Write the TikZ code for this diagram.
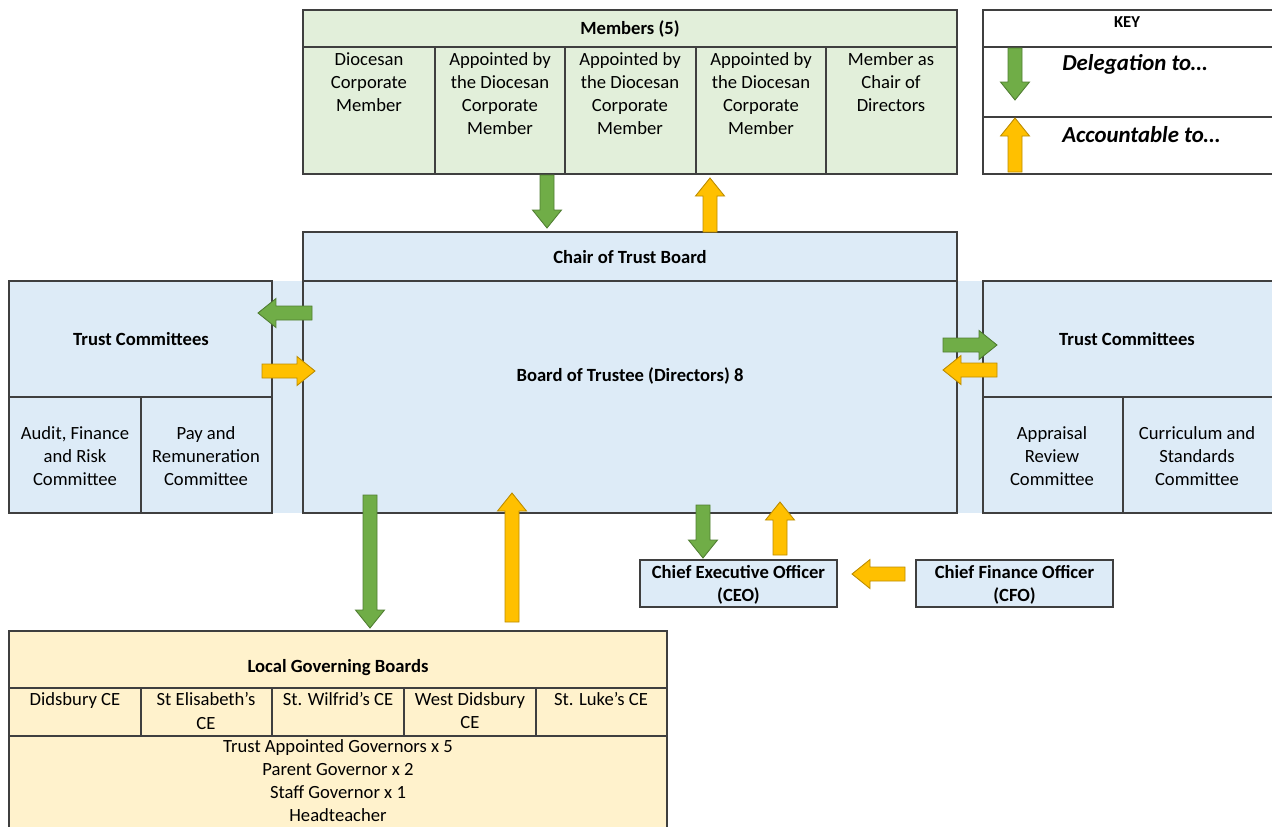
\documentclass[tikz,border=0pt]{standalone}
\usepackage{fontspec}
\setmainfont{Carlito}
\usetikzlibrary{calc}

\definecolor{linec}{HTML}{3F3F3F}
\definecolor{memgreen}{HTML}{E2EFDA}
\definecolor{trustblue}{HTML}{DDEBF7}
\definecolor{lgbyellow}{HTML}{FFF2CC}
\definecolor{delgreen}{HTML}{70AD47}
\definecolor{delgreenline}{HTML}{507E32}
\definecolor{accorange}{HTML}{FFC000}
\definecolor{accorangeline}{HTML}{BC8C00}

\newcommand{\cellsize}{\fontsize{10.6}{13.1}\selectfont}

\tikzset{
	greenbox/.style={fill=memgreen,draw=linec,line width=0.6pt},
	bluebox/.style={fill=trustblue,draw=linec,line width=0.6pt},
	yellowbox/.style={fill=lgbyellow,draw=linec,line width=0.6pt},
	divider/.style={draw=linec,line width=0.6pt},
	celltext/.style={align=center,inner sep=0pt,font=\cellsize},
	headtext/.style={align=center,inner sep=0pt,font=\cellsize\bfseries},
	keytext/.style={anchor=west,inner sep=0pt,font=\fontsize{13}{15}\selectfont\bfseries\itshape},
	delegate/.style={fill=delgreen,draw=delgreenline,line width=0.5pt},
	account/.style={fill=accorange,draw=accorangeline,line width=0.5pt}
}

% block arrow: style, from, to
\newcommand{\blockarrow}[3]{%
	\coordinate (ba-h) at ($(#3)!0.36cm!(#2)$);
	\draw[#1] ($(#2)!0.14cm!90:(#3)$) -- ($(ba-h)!0.14cm!-90:(#2)$) -- ($(ba-h)!0.29cm!-90:(#2)$)
	-- (#3) -- ($(ba-h)!0.29cm!90:(#2)$) -- ($(ba-h)!0.14cm!90:(#2)$) -- ($(#2)!0.14cm!-90:(#3)$) -- cycle;
}

\begin{document}
\begin{tikzpicture}[x=0.02cm,y=-0.02cm]
	\useasboundingbox (0,0) rectangle (1272,826);

	%Members table
	\draw [greenbox] (303,10) rectangle (957,174);
	\draw [divider] (303,47) -- (957,47);
	\draw [divider] (435,47) -- (435,174);
	\draw [divider] (565,47) -- (565,174);
	\draw [divider] (696,47) -- (696,174);
	\draw [divider] (826,47) -- (826,174);
	\node [headtext] (members) at (630,29) {Members (5)};
	\node [celltext,anchor=north] (mem-a) at (369,52.5) {Diocesan\\Corporate\\Member};
	\node [celltext,anchor=north] (mem-b) at (500,52.5) {Appointed by\\the Diocesan\\Corporate\\Member};
	\node [celltext,anchor=north] (mem-c) at (630,52.5) {Appointed by\\the Diocesan\\Corporate\\Member};
	\node [celltext,anchor=north] (mem-d) at (761,52.5) {Appointed by\\the Diocesan\\Corporate\\Member};
	\node [celltext,anchor=north] (mem-e) at (891,52.5) {Member as\\Chair of\\Directors};

	%Key
	\draw [divider,fill=white] (983,10) rectangle (1274,174);
	\draw [divider] (983,47) -- (1274,47);
	\draw [divider] (983,117) -- (1274,117);
	\node [headtext,font=\fontsize{9.5}{11}\selectfont\bfseries] (key) at (1127,22) {KEY};
	\node [keytext] (key-del) at (1062,64.5) {Delegation to…};
	\node [keytext] (key-acc) at (1062,134.5) {Accountable to…};

	%Band behind the board and the committees
	\fill [trustblue] (272,281) rectangle (983,513);

	%Chair and board
	\draw [bluebox] (303,232) rectangle (957,513);
	\draw [divider] (303,281) -- (957,281);
	\node [headtext] (chair) at (630,257) {Chair of Trust Board};
	\node [headtext] (board) at (630,375.5) {Board of Trustee (Directors) 8};

	%Trust committees, left
	\draw [bluebox] (9,281) rectangle (272,513);
	\draw [divider] (9,397) -- (272,397);
	\draw [divider] (141,397) -- (141,513);
	\node [headtext] (tc-left) at (141,339.5) {Trust Committees};
	\node [celltext] (audit) at (75,456) {Audit, Finance\\and Risk\\Committee};
	\node [celltext] (pay) at (206,456) {Pay and\\Remuneration\\Committee};

	%Trust committees, right
	\draw [bluebox] (983,281) rectangle (1274,513);
	\draw [divider] (983,397) -- (1274,397);
	\draw [divider] (1123,397) -- (1123,513);
	\node [headtext] (tc-right) at (1127,339.5) {Trust Committees};
	\node [celltext] (appraisal) at (1052,456) {Appraisal\\Review\\Committee};
	\node [celltext] (curriculum) at (1197,456) {Curriculum and\\Standards\\Committee};

	%Officers
	\draw [bluebox] (640,560) rectangle (837,607);
	\draw [bluebox] (916,560) rectangle (1113,607);
	\node [headtext] (ceo) at (738.5,585) {Chief Executive Officer\\(CEO)};
	\node [headtext] (cfo) at (1014.5,585) {Chief Finance Officer\\(CFO)};

	%Local governing boards
	\fill [lgbyellow] (9,631) rectangle (667,830);
	\draw [divider] (9,830) -- (9,631) -- (667,631) -- (667,830);
	\draw [divider] (9,688) -- (667,688);
	\draw [divider] (9,736) -- (667,736);
	\draw [divider] (141,688) -- (141,736);
	\draw [divider] (272,688) -- (272,736);
	\draw [divider] (404,688) -- (404,736);
	\draw [divider] (536,688) -- (536,736);
	\node [headtext] (lgb) at (338,668) {Local Governing Boards};
	\node [celltext,anchor=north] (didsbury) at (75,692.5) {Didsbury CE};
	\node [celltext,anchor=north] (elisabeth) at (206,692.5) {St Elisabeth’s\\CE};
	\node [celltext,anchor=north] (wilfrid) at (338,692.5) {St. Wilfrid’s CE};
	\node [celltext,anchor=north] (westdid) at (470,692.5) {West Didsbury\\CE};
	\node [celltext,anchor=north] (luke) at (601,692.5) {St. Luke’s CE};
	\node [celltext,anchor=north] (governors) at (338,739.5) {Trust Appointed Governors x 5\\Parent Governor x 2\\Staff Governor x 1\\Headteacher};

	%Arrow ends
	\coordinate (mem-down-s) at (547,175);
	\coordinate (mem-down-e) at (547,228);
	\coordinate (mem-up-s) at (710,232);
	\coordinate (mem-up-e) at (710,178);
	\coordinate (left-del-s) at (312,313);
	\coordinate (left-del-e) at (258,313);
	\coordinate (left-acc-s) at (262,371);
	\coordinate (left-acc-e) at (315,371);
	\coordinate (right-del-s) at (943,345);
	\coordinate (right-del-e) at (997,345);
	\coordinate (right-acc-s) at (997,370);
	\coordinate (right-acc-e) at (943,370);
	\coordinate (lgb-del-s) at (370,495);
	\coordinate (lgb-del-e) at (370,628);
	\coordinate (lgb-acc-s) at (512,622);
	\coordinate (lgb-acc-e) at (512,493);
	\coordinate (ceo-del-s) at (703,505);
	\coordinate (ceo-del-e) at (703,558);
	\coordinate (ceo-acc-s) at (780,555);
	\coordinate (ceo-acc-e) at (780,502);
	\coordinate (cfo-acc-s) at (905,574);
	\coordinate (cfo-acc-e) at (852,574);
	\coordinate (key-del-s) at (1015,48);
	\coordinate (key-del-e) at (1015,100);
	\coordinate (key-acc-s) at (1015,172);
	\coordinate (key-acc-e) at (1015,118);

	%Delegation arrows
	\blockarrow{delegate}{mem-down-s}{mem-down-e}
	\blockarrow{delegate}{left-del-s}{left-del-e}
	\blockarrow{delegate}{right-del-s}{right-del-e}
	\blockarrow{delegate}{lgb-del-s}{lgb-del-e}
	\blockarrow{delegate}{ceo-del-s}{ceo-del-e}
	\blockarrow{delegate}{key-del-s}{key-del-e}

	%Accountability arrows
	\blockarrow{account}{mem-up-s}{mem-up-e}
	\blockarrow{account}{left-acc-s}{left-acc-e}
	\blockarrow{account}{right-acc-s}{right-acc-e}
	\blockarrow{account}{lgb-acc-s}{lgb-acc-e}
	\blockarrow{account}{ceo-acc-s}{ceo-acc-e}
	\blockarrow{account}{cfo-acc-s}{cfo-acc-e}
	\blockarrow{account}{key-acc-s}{key-acc-e}
\end{tikzpicture}
\end{document}
